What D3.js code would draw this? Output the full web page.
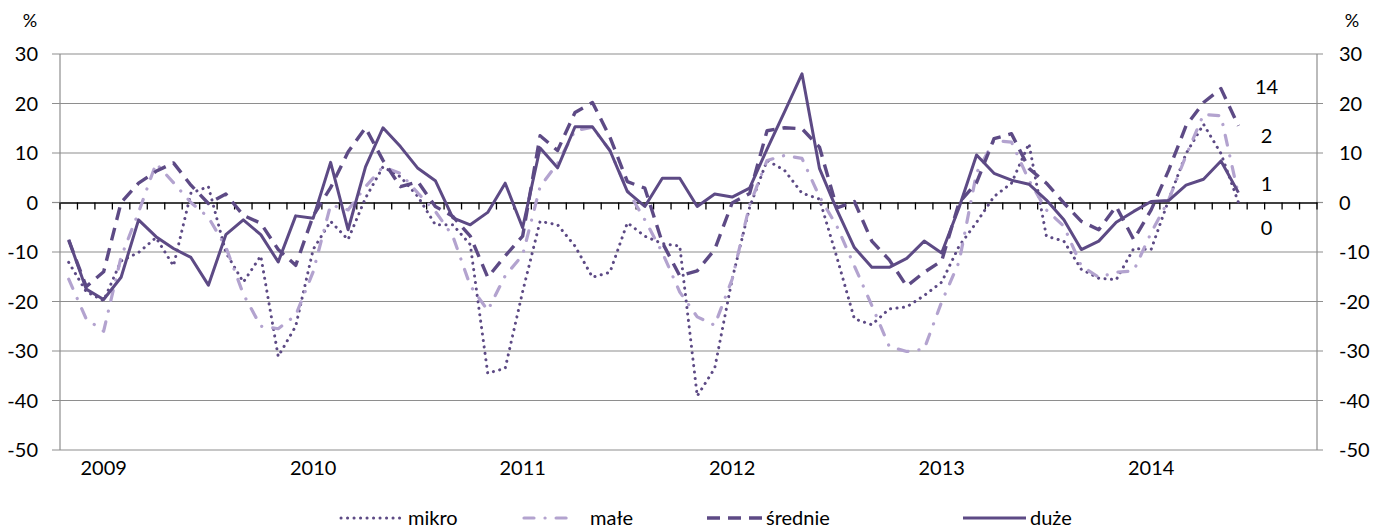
<!DOCTYPE html>
<html>
<head>
<meta charset="utf-8">
<script src="https://cdn.jsdelivr.net/npm/d3@7/dist/d3.min.js"></script>
<style>
  html, body { margin: 0; padding: 0; background: #fff; }
  svg { display: block; }
  text { font-family: Lato, "Open Sans", "Liberation Sans", sans-serif; fill: #000; }
</style>
</head>
<body>
<svg id="chart" width="1387" height="531"></svg>
<script>
// Monthly categories: Nov 2008 – Oct 2014 (values run to Jun 2014)
const startMonth = new Date(2008, 10, 1);
const endMonth = new Date(2014, 10, 1);
const yearLabels = ["2009", "2010", "2011", "2012", "2013", "2014"];
const yTicks = [30, 20, 10, 0, -10, -20, -30, -40, -50];

const seriesNames = ["mikro", "małe", "średnie", "duże"];

const mikro = [-12.1, -18, -19.8, -11.8, -10.1, -7.1, -12.8, 1.9, 3.2, -10.1, -16.1, -10.8,
  -31.1, -25, -9.5, -3.8, -7.5, 0.9, 7.2, 5.2, 1.2, -4.5, -4.5, -8.5,
  -34.5, -33.5, -18, -3.8, -4.5, -8.8, -15.1, -14.1, -4.1, -6.8, -8.3, -8.8,
  -39.1, -33.5, -15.5, -1, 8.5, 6.5, 1.9, 0.7, -11.1, -23.5, -24.7, -21.5,
  -21.1, -18.8, -16.1, -8.8, -4, 1.2, 3.9, 11.9, -6.8, -7.8, -13.5, -15.3,
  -15.6, -9.3, -9.5, 0.5, 9.9, 15.8, 9.9, 0];

const male = [-15.5, -23.5, -26, -11, -2, 7.9, 4, 0, -3, -9, -18.5, -25,
  -25.5, -22.8, -14, -0.5, -1.5, 3.2, 7.2, 5.9, 1.9, -1.8, -6.8, -16.8,
  -21.8, -14.8, -10.6, 3.2, 7.9, 14.5, 15.2, 10.5, 2.5, -3.5, -10.1, -18.1,
  -23.1, -24.8, -15.5, -0.5, 8.5, 9.5, 8.9, 1.2, -4.8, -12.8, -20.8, -29.1,
  -30.1, -29.6, -20.1, -12, 6, 12.5, 12.2, 4.5, -1.5, -4.8, -12.8, -15.1,
  -14.1, -13.8, -6.1, 0.5, 9.5, 17.8, 17.5, 1.5];

const srednie = [-7.6, -17, -14, 0, 3.9, 6.3, 8, 3.5, -0.2, 1.7, -2.6, -4.2,
  -9.5, -12.7, -2.7, 3, 10.2, 15.1, 8.5, 3.2, 4.2, -0.8, -2.8, -6.8,
  -15.1, -10.8, -6.8, 13.5, 10.5, 18.2, 20.2, 13.2, 4.2, 2.9, -8.1, -14.8,
  -13.8, -9.5, -0.1, 1.8, 14.5, 15.1, 14.9, 11.2, -1.1, 0.2, -7.8, -11.6,
  -16.9, -14.1, -11.8, 0, 4, 12.9, 13.9, 6.9, 3.9, -0.1, -3.8, -5.5,
  -0.8, -7.5, -1.5, 6.5, 15.5, 20.2, 23, 15.5];

const duze = [-7.5, -17.5, -19.6, -15.1, -3.5, -6.9, -9.3, -11.1, -16.7, -6.5, -3.5, -6.5,
  -12, -2.7, -3.2, 8.1, -5.5, 7.2, 15.1, 11.3, 6.9, 4.4, -3.1, -4.5,
  -2, 3.9, -5.1, 11, 7, 15.3, 15.3, 10.5, 2.2, -0.8, 4.9, 4.9,
  -0.8, 1.7, 1.1, 2.9, 10.8, 18.3, 26, 6.9, -1.5, -9.1, -13.1, -13.1,
  -11.3, -7.8, -10.2, -1, 9.6, 5.9, 4.5, 3.7, 0.5, -3.5, -9.5, -7.8,
  -4, -1.8, 0.2, 0.4, 3.5, 4.7, 8.4, 2];

// Side notes printed next to the line ends
const noteTexts = ["14", "2", "1", "0"];
const noteLevels = [23.3, 13.4, 3.7, -5.2];

const dark = "#5d4a85";
const light = "#b3a3cf";
const styles = [
  { color: dark,  width: 3,   dash: "0.1 6.4",        cap: "round" },
  { color: light, width: 3.2, dash: "10 11 0.1 11",   cap: "round" },
  { color: dark,  width: 3.4, dash: "13 8",           cap: "butt"  },
  { color: dark,  width: 3,   dash: null,             cap: "butt"  }
];
const seriesValues = [mikro, male, srednie, duze];

const svg = d3.select("#chart");
const fmt = d3.timeFormat("%Y-%m");
const months = d3.timeMonth.range(startMonth, endMonth).map(fmt);

const plotLeft = 60, plotRight = 1317, plotTop = 54, plotBottom = 450;
const x = d3.scaleBand().domain(months).range([plotLeft, plotRight]).padding(0);
const y = d3.scaleLinear().domain([-50, 30]).range([plotBottom, plotTop]);
const cx = i => x(months[i]) + x.bandwidth() / 2;

const fontSize = 20;

// Horizontal gridlines (with tick stubs on both sides)
svg.append("g").selectAll("line").data(yTicks.filter(d => d !== 0)).join("line")
  .attr("x1", plotLeft - 8).attr("x2", plotRight + 6)
  .attr("y1", d => y(d)).attr("y2", d => y(d))
  .attr("stroke", "#8e8e8e").attr("stroke-width", 1.2);

// Vertical axis lines
[plotLeft, plotRight].forEach(px => {
  svg.append("line").attr("x1", px).attr("x2", px).attr("y1", plotTop).attr("y2", plotBottom)
    .attr("stroke", "#8e8e8e").attr("stroke-width", 1.2);
});
svg.append("line").attr("x1", plotLeft - 8).attr("x2", plotLeft).attr("y1", y(0)).attr("y2", y(0))
  .attr("stroke", "#8e8e8e").attr("stroke-width", 1.2);
svg.append("line").attr("x1", plotRight).attr("x2", plotRight + 6).attr("y1", y(0)).attr("y2", y(0))
  .attr("stroke", "#8e8e8e").attr("stroke-width", 1.2);

// Left and right value labels
svg.append("g").selectAll("text").data(yTicks).join("text")
  .attr("x", 38).attr("y", d => y(d)).attr("dy", "0.36em")
  .attr("text-anchor", "end").attr("font-size", fontSize).text(d => d);
svg.append("g").selectAll("text").data(yTicks).join("text")
  .attr("x", 1339).attr("y", d => y(d)).attr("dy", "0.36em")
  .attr("text-anchor", "start").attr("font-size", fontSize).text(d => d);
svg.append("text").attr("x", 30).attr("y", 21).attr("dy", "0.36em")
  .attr("text-anchor", "middle").attr("font-size", 18).text("%");
svg.append("text").attr("x", 1352).attr("y", 21).attr("dy", "0.36em")
  .attr("text-anchor", "middle").attr("font-size", 18).text("%");

// Category axis along zero, ticks at every month boundary
const xAxis = d3.axisBottom(x).tickSize(0).tickFormat("");
svg.append("g").attr("transform", `translate(0,${y(0)})`).call(xAxis)
  .call(g => g.select(".domain").attr("stroke", "#000").attr("stroke-width", 1.6));
svg.append("g").selectAll("line").data(d3.range(months.length + 1)).join("line")
  .attr("x1", i => plotLeft + i * x.bandwidth()).attr("x2", i => plotLeft + i * x.bandwidth())
  .attr("y1", y(0)).attr("y2", y(0) + 7)
  .attr("stroke", "#000").attr("stroke-width", 1.3);

// Year labels under the plot, centred on January
svg.append("g").selectAll("text").data(yearLabels).join("text")
  .attr("x", d => x(d + "-01") + x.bandwidth() / 2)
  .attr("y", 468).attr("dy", "0.36em")
  .attr("text-anchor", "middle").attr("font-size", fontSize).text(d => d);

// Series lines
const line = d3.line().x((d, i) => cx(i)).y(d => y(d));
seriesValues.forEach((vals, k) => {
  const s = styles[k];
  svg.append("path").datum(vals)
    .attr("d", line)
    .attr("fill", "none")
    .attr("stroke", s.color)
    .attr("stroke-width", s.width)
    .attr("stroke-linecap", s.cap)
    .attr("stroke-linejoin", "round")
    .attr("stroke-dasharray", s.dash);
});

// Side notes
svg.append("g").selectAll("text").data(noteTexts).join("text")
  .attr("x", plotLeft + 69 * x.bandwidth() + 2)
  .attr("y", (d, i) => y(noteLevels[i])).attr("dy", "0.36em")
  .attr("text-anchor", "middle").attr("font-size", fontSize).text(d => d);

// Legend
const legendX = [340, 523, 706, 962];
const legendTextX = [408, 590, 766, 1030];
const legendLen = [62, 52, 57, 64];
const legendY = 518;
const lg = svg.append("g");
seriesNames.forEach((name, k) => {
  const s = styles[k];
  lg.append("line")
    .attr("x1", legendX[k] + 1).attr("x2", legendX[k] + legendLen[k])
    .attr("y1", legendY).attr("y2", legendY)
    .attr("stroke", s.color).attr("stroke-width", s.width)
    .attr("stroke-linecap", s.cap).attr("stroke-dasharray", s.dash);
  lg.append("text")
    .attr("x", legendTextX[k]).attr("y", legendY).attr("dy", "0.36em")
    .attr("font-size", fontSize).text(name);
});
</script>
</body>
</html>
